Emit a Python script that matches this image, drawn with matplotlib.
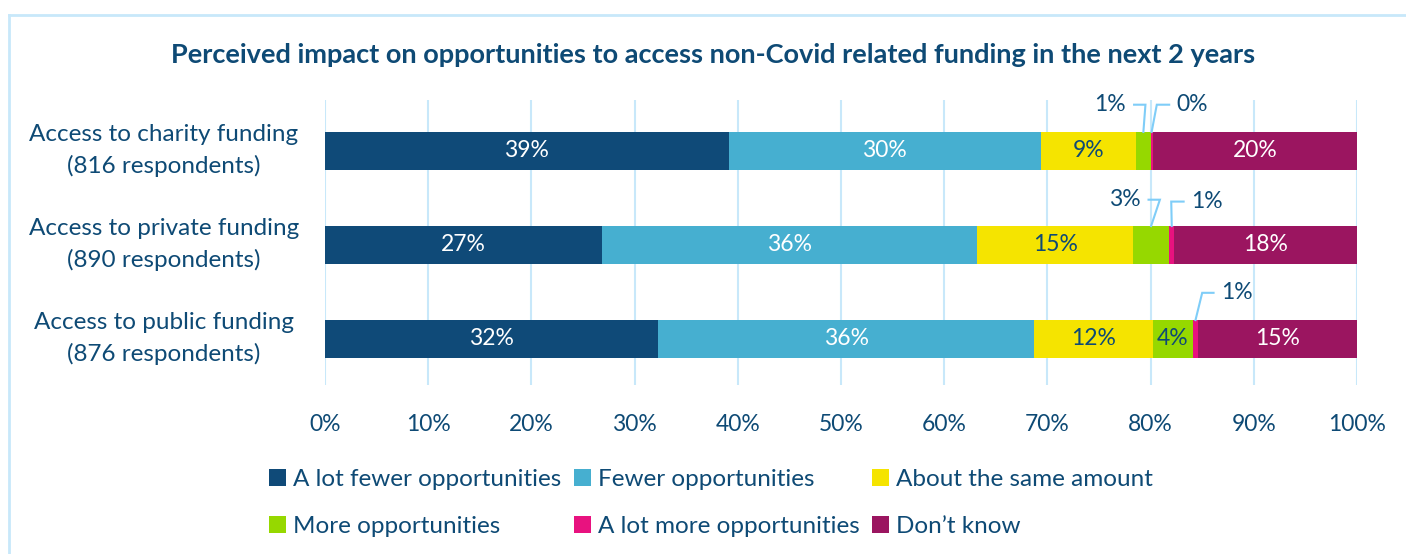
import numpy as np
import matplotlib
matplotlib.use('Agg')
import matplotlib.pyplot as plt
from matplotlib.lines import Line2D
from matplotlib.patches import Patch

plt.rcParams['font.family'] = ['Lato', 'DejaVu Sans']

# data
categories = ['Access to charity funding\n(816 respondents)',
              'Access to private funding\n(890 respondents)',
              'Access to public funding\n(876 respondents)']
series = ['A lot fewer opportunities', 'Fewer opportunities', 'About the same amount',
          'More opportunities', 'A lot more opportunities', "Don\u2019t know"]
a_lot_fewer = [39.1, 26.8, 32.3]
fewer = [30.3, 36.4, 36.4]
same = [9.2, 15.1, 11.5]
more = [1.4, 3.5, 3.9]
a_lot_more = [0.2, 0.5, 0.5]
dont_know = [19.8, 17.7, 15.4]
labels = [['39%', '27%', '32%'], ['30%', '36%', '36%'], ['9%', '15%', '12%'],
          ['1%', '3%', '4%'], ['0%', '1%', '1%'], ['20%', '18%', '15%']]

colors = ['#0f4a78', '#46afd0', '#f5e400', '#96d800', '#e8127f', '#9b1560']
text_colors = ['white', 'white', '#0e4a75', '#0e4a75', '#0e4a75', 'white']
navy = '#0e4a75'
grid_c = '#c8e8fa'

fig = plt.figure(figsize=(14.06, 5.54), dpi=100)
ax = fig.add_axes([325/1406, 1-385/554, (1357-325)/1406, 285/554])

vals = np.array([a_lot_fewer, fewer, same, more, a_lot_more, dont_know])
vals = vals / vals.sum(axis=0) * 100
y = np.arange(len(categories))
left = np.zeros(len(categories))
for i, s in enumerate(series):
    ax.barh(y, vals[i], left=left, height=0.405, color=colors[i], zorder=3)
    for j in range(len(categories)):
        w = vals[i][j]
        if w >= 3.8 or i in (0, 1, 2, 5):
            ax.text(left[j] + w/2, y[j], labels[i][j], ha='center', va='center',
                    color=text_colors[i], fontsize=16.5, zorder=4)
    left += vals[i]

# callouts for the thin segments
def callout(j, xseg, xbend, xend, ytxt, txt, tx, ha):
    ax.plot([xseg, xbend, xend], [y[j] - 0.2, ytxt, ytxt], color='#7fcdf8', lw=1.5,
             zorder=4, clip_on=False, solid_joinstyle='miter')
    ax.text(tx, ytxt, txt, ha=ha, va='center', color=navy, fontsize=16.5, clip_on=False)

cum = np.cumsum(vals, axis=0)
# charity: more, a lot more
callout(0, cum[3][0] - vals[3][0]/2, 79.5, 78.4, -0.49, labels[3][0], 77.6, 'right')
callout(0, cum[4][0] - vals[4][0]/2, 80.6, 81.8, -0.49, labels[4][0], 82.5, 'left')
# private
callout(1, cum[3][1] - vals[3][1]/2, 80.9, 79.8, 0.52, labels[3][1], 79.0, 'right')
callout(1, cum[4][1] - vals[4][1]/2, 82.0, 83.2, 0.54, labels[4][1], 83.9, 'left')
# public
callout(2, cum[4][2] - vals[4][2]/2, 85.0, 86.1, 1.51, labels[4][2], 86.8, 'left')

ax.set_xlim(0, 100)
ax.set_ylim(2.49, -0.54)
ax.set_xticks(np.arange(0, 101, 10))
ax.set_xticklabels(['%d%%' % v for v in range(0, 101, 10)])
ax.set_yticks(y)
ax.set_yticklabels(categories, ha='center', va='center', linespacing=1.55)
ax.tick_params(axis='y', pad=116, length=0, labelsize=17.5, labelcolor=navy)
ax.tick_params(axis='x', length=0, labelsize=16.5, labelcolor=navy, pad=21)
ax.grid(axis='x', color=grid_c, lw=1.5, zorder=0)
for sp in ax.spines.values():
    sp.set_visible(False)

fig.text(713/1406, 1-55/554, 'Perceived impact on opportunities to access non-Covid related funding in the next 2 years',
         ha='center', va='center', fontsize=19.5, fontweight='bold', color=navy)

# frame lines
fig.add_artist(Line2D([9/1406, 9/1406], [0, 1-15/554], color=grid_c, lw=2))
fig.add_artist(Line2D([9/1406, 1], [1-15/554, 1-15/554], color=grid_c, lw=2))

# legend filled row by row
order = [0, 3, 1, 4, 2, 5]
handles = [Patch(facecolor=colors[k]) for k in order]
leg = fig.legend(handles, [series[k] for k in order], loc='center left',
                 bbox_to_anchor=(247/1406, 1-503/554),
                 ncol=3, frameon=False, fontsize=17.5, handlelength=0.7, handleheight=0.7,
                 handletextpad=0.3, columnspacing=0.5, labelspacing=1.1, labelcolor=navy)

fig.savefig('out.png', dpi=100)
